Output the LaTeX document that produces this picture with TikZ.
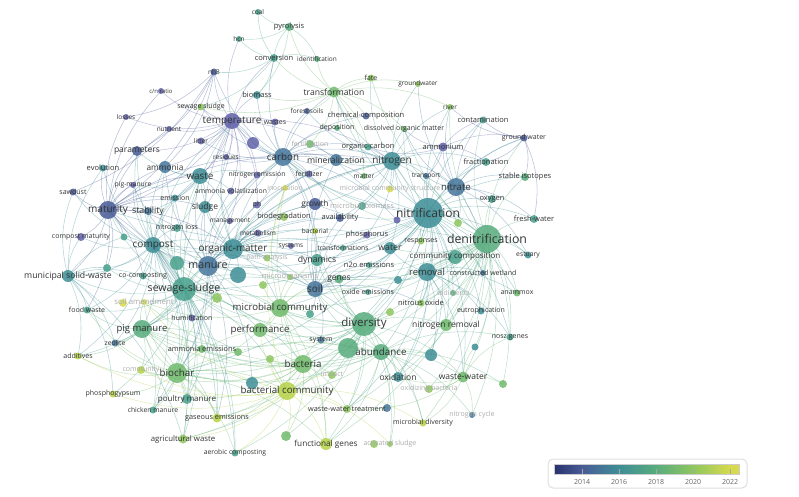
\documentclass[tikz,border=0pt]{standalone}
\usepackage{fontspec}
\setmainfont{Open Sans}
\usetikzlibrary{backgrounds}

\definecolor{cA}{RGB}{40,50,110}
\definecolor{cP}{RGB}{96,98,168}
\definecolor{cB}{RGB}{72,92,150}
\definecolor{cC}{RGB}{70,118,155}
\definecolor{cD}{RGB}{62,142,150}
\definecolor{cE}{RGB}{72,160,140}
\definecolor{cF}{RGB}{88,172,125}
\definecolor{cG}{RGB}{112,186,108}
\definecolor{cH}{RGB}{142,198,95}
\definecolor{cI}{RGB}{182,210,72}
\definecolor{cJ}{RGB}{214,218,76}

\tikzset{
  kw/.style={circle,inner sep=0pt,draw=none,fill opacity=0.85},
  lbl/.style={inner sep=0pt,text=black!80},
  faded/.style={inner sep=0pt,text=black!33},
  link/.style={line width=0.55pt,draw opacity=0.38},
}

% id/x/y/radius/colour/font size/label
\def\kwlist{coal/258/12/3/cE/6.5/coal, pyro/289/27/4/cF/7.5/pyrolysis,
  hcn/239/39/3/cE/6.5/hcn, conv/274/58/4/cE/7.5/conversion,
  ident/317/59/3/cF/6.5/identification, nhthree/214/72/3.5/cB/6.5/nh3,
  biomass/257/95/4/cD/7.5/biomass, transf/334/92/5.5/cG/8.6/transformation,
  fate/371/78/3.5/cH/7/fate, gwater/418/84/3/cH/6.5/groundwater,
  ssl/201/107/3.5/cH/7/sewage sludge, cnratio/161/91/3/cP/6/c\slash n ratio,
  losses/126/117/3/cP/6.5/losses, nutrient/169/129/3/cP/6.5/nutrient,
  litter/201/141/3.5/cP/6.5/litter, temp/232/121/8/cP/10/temperature,
  wastes/275/122/3.5/cP/7/wastes, forest/307/111/3/cB/6.5/forest soils,
  chemcomp/366/116/3.5/cB/7.5/chemical-composition, depos/337/128/3/cF/7/deposition,
  dom/404/129/3/cG/7/dissolved organic matter, river/450/107/3/cH/6.5/river,
  contam/483/120/3.5/cE/7.5/contamination, grwater/524/138/3.5/cB/7/ground water,
  ammonium/443/147/4.5/cP/7.5/ammonium, param/137/151/5/cB/8.5/parameters,
  orgc/368/147/3.5/cE/7.5/organic-carbon, carbon/283/157/9/cC/9.8/carbon,
  resid/226/157/3/cP/6.5/residues, miner/336/160/6/cC/8.7/mineralization,
  nitrogen/392/161/9/cD/10/nitrogen, fract/486/162/4/cE/7.5/fractionation,
  evol/103/168/3.5/cD/7.5/evolution, ammonia/165/167/6/cC/8.3/ammonia,
  waste/200/176/8/cD/9.9/waste, nemis/257/175/3.5/cP/6.8/nitrogen emission,
  fertil/309/174/3.5/cP/7/fertilizer, matter/364/176/3/cG/6.5/matter,
  transp/426/176/3/cC/6.5/transport, nitrate/456/187/9/cC/9.6/nitrate,
  stabiso/525/177/4/cF/7.5/stable isotopes, pigm/133/185/3/cP/6.8/pig-manure,
  amvol/231/191/3.5/cP/6.8/ammonia volatilization, emis/175/198/3.5/cD/7/emission,
  sawdust/73/192/3.5/cB/7/sawdust, oxygen/492/199/4/cE/7.5/oxygen,
  matur/108/210/9/cB/10/maturity, stab/148/211/4/cC/8.8/stability,
  sludge/205/207/6/cD/8.5/sludge, ph/257/205/3.5/cP/7/ph,
  growth/315/204/6/cB/8.3/growth, nitrif/428/213/15/cD/12/nitrification,
  fresh/534/219/4/cE/7.5/fresh-water, manag/230/221/3/cP/6.5/management,
  biodeg/284/217/4/cH/7.5/biodegradation, avail/340/218/4/cB/7.5/availability,
  cmatur/81/237/4/cP/7/compost maturity, nloss/177/228/4/cE/7/nitrogen loss,
  metab/258/233/3.5/cP/6.5/metabolism, bactl/315/231/3/cI/6.5/bacterial,
  phos/367/235/3.5/cP/7.5/phosphorus, resp/421/241/3.5/cH/7/responses,
  denit/487/239/14/cF/12.3/denitrification, estuary/528/255/3.5/cD/6.8/estuary,
  compost/153/245/8/cD/10/compost, om/233/249/10/cD/9.9/organic-matter,
  systems/291/246/3/cP/6.5/systems, transfs/343/248/3/cE/6.8/transformations,
  water/390/248/6/cD/8.7/water, comcomp/455/257/7/cE/8/community composition,
  dyn/317/260/6/cE/8.7/dynamics, ntwoo/369/265/3/cE/7.5/n2o emissions,
  cwet/483/273/3/cC/7/constructed wetland, removal/427/272/9/cD/9.5/removal,
  manure/208/266/10/cC/10.7/manure, genes/339/279/4.5/cF/8.5/genes,
  msw/68/276/6/cD/8.7/municipal solid-waste, cocomp/143/276/3.5/cE/7/co-composting,
  sws/184/289/12/cE/10.6/sewage-sludge, soil/315/289/8/cC/10/soil,
  oxem/368/292/3/cE/7/oxide emissions, anammox/517/293/3.5/cG/7/anammox,
  nox/421/303/3.5/cH/7.5/nitrous oxide, food/87/310/3.5/cE/7/food waste,
  mcom/280/308/9/cG/9.6/microbial community, eutro/481/311/3.5/cD/7/eutrophication,
  div/364/324/12/cF/11.5/diversity, humif/192/318/3.5/cP/7/humification,
  perf/260/330/7/cG/9.7/performance, nrem/446/325/6/cG/8.5/nitrogen removal,
  pigmanure/142/329/9/cF/9.5/pig manure, zeolite/115/343/3.5/cC/6.8/zeolite,
  amem/202/349/4/cG/7.3/ammonia emissions, system/321/340/3.5/cC/7/system,
  abund/381/352/8/cF/9.8/abundance, nosz/510/337/3.5/cE/7/nosz genes,
  addit/78/356/3.5/cI/7/additives, biochar/177/373/10/cG/9.8/biochar,
  bact/303/364/9/cG/9.8/bacteria, oxid/398/377/5/cD/8.5/oxidation,
  ww/463/377/5.5/cG/8.5/waste-water, bcom/287/391/9/cI/9.7/bacterial community,
  phosg/113/394/3.5/cI/7/phosphogypsum, poultry/187/399/5/cE/8/poultry manure,
  chicken/153/410/3.5/cE/6.8/chicken manure, gasem/217/418/4.5/cI/7.3/gaseous emissions,
  wwt/347/409/4/cH/7.3/waste-water treatment, mdiv/423/423/3.5/cI/7/microbial diversity,
  agri/183/439/4.5/cH/7.8/agricultural waste, fgenes/326/444/6/cI/8.2/functional genes,
  aerobic/235/453/3.5/cE/6.8/aerobic composting}

% labels that are drawn faded
\def\fadedlist{fertion/310/144/4/cG/7/fertilization, inoc/285/188/3/cJ/6.8/inoculation,
  smcs/390/189/3.5/cJ/7/microbial community structure,
  mbiom/362/206/4/cE/7.5/microbial biomass, path/267/258/3.5/cH/6.8/path analysis,
  morg/290/277/3/cH/7.5/microorganisms, sedim/453/293/3/cF/6.8/sediments,
  samend/144/302/3/cJ/7.8/soil amendment, commu/141/370/4/cI/7/community,
  impact/332/375/4/cH/7/impact, oxbact/429/389/4/cH/7/oxidizing bacteria,
  ncycle/472/415/3/cC/7/nitrogen cycle, asl/390/444/3/cH/7/activated sludge}

% items whose label is hidden
\def\hiddenlist{volat/253/143/6/cP, u1/348/348/10/cF, u2/431/355/6/cD,
  u3/238/275/8/cD, u4/177/263/7/cE, u5/252/383/6/cD, u6/503/384/4/cG,
  u7/458/223/4/cH, u8/217/298/5/cH, u9/387/408/4/cC, u10/398/280/4/cD,
  u11/390/312/4/cH, u12/397/220/3.5/cP, u13/124/237/3.5/cE, u14/107/268/4/cE,
  u15/286/436/5/cG, u16/475/347/3.5/cD, u17/310/314/4/cE, u18/270/359/4/cH,
  u19/238/352/4/cG, u20/123/303/4/cJ, u21/263/285/4/cH, u22/374/444/4/cH}

\begin{document}
\begin{tikzpicture}[x=1pt,y=-1pt]
\useasboundingbox (0,0) rectangle (799,497);

% circles
\foreach \id/\x/\y/\rad/\col/\fs/\txt in \kwlist
  \node[kw,fill=\col,minimum size={2*\rad pt}] (\id) at (\x,\y) {};
\foreach \id/\x/\y/\rad/\col/\fs/\txt in \fadedlist
  \node[kw,fill=\col,minimum size={2*\rad pt}] (\id) at (\x,\y) {};
\foreach \id/\x/\y/\rad/\col in \hiddenlist
  \node[kw,fill=\col,minimum size={2*\rad pt}] (\id) at (\x,\y) {};

% links
\begin{scope}[on background layer]
\foreach \hub/\col/\tgts in {
  nitrif/cD/{denit,nitrate,nitrogen,ammonium,oxygen,fresh,estuary,removal,water,comcomp,div,abund,soil,fract,stabiso,contam,grwater,ntwoo,nox,anammox,cwet,carbon,miner,transp,manure,compost,sws,biochar,bact,ww,nosz,eutro,sedim,nrem,oxid,resp,growth,dyn,u2,u1,river,dom,transf,matur,temp,om,mcom},
  denit/cF/{nitrate,estuary,fresh,removal,comcomp,anammox,cwet,nox,nrem,div,abund,nosz,ww,oxid,eutro,sedim,bact,mcom,soil,genes,fgenes,wwt,mdiv,oxbact,u6,u16,ncycle,water,oxygen,stabiso,grwater,contam,river,fate,dom,carbon,nitrogen,biochar,sws,compost,manure},
  div/cF/{abund,bact,bcom,mcom,soil,genes,fgenes,wwt,mdiv,asl,perf,system,oxid,ww,biochar,compost,sws,manure,pigmanure,nrem,comcomp,impact,u1,u11,u15,bactl,dyn,gasem,agri,aerobic},
  abund/cF/{bact,bcom,fgenes,genes,nosz,oxid,ww,wwt,mdiv,asl,ncycle,oxbact,soil,mcom,u2,u6,u9,biochar,pigmanure,sws,compost,amem},
  sws/cE/{compost,om,manure,sludge,waste,matur,temp,carbon,nitrogen,msw,cocomp,humif,pigmanure,biochar,food,zeolite,samend,mcom,perf,bact,bcom,amem,gasem,poultry,chicken,agri,aerobic,phosg,addit,soil,u3,u4,u8,u14,stab,ammonia,param,emis,nloss},
  manure/cC/{compost,om,waste,sludge,matur,temp,carbon,nitrogen,ammonia,amvol,emis,pigmanure,poultry,chicken,biochar,soil,dyn,metab,growth,avail,fertil,nemis,u3,u5,gasem,pigm},
  compost/cD/{om,matur,stab,cmatur,msw,cocomp,sawdust,evol,param,temp,ammonia,pigm,waste,nloss,emis,food,zeolite,addit,pigmanure,biochar,humif,amem,poultry,chicken,gasem,agri,aerobic,u13,u14,u4,div},
  om/cD/{carbon,nitrogen,miner,dyn,soil,growth,biodeg,metab,systems,transfs,path,morg,sludge,waste,temp,resid,ph,manag,humif,mcom,u3,bactl,avail,fertil,phos},
  carbon/cC/{temp,wastes,forest,chemcomp,depos,orgc,miner,nitrogen,resid,litter,volat,fertion,nemis,fertil,growth,ph,avail,biomass,transf,conv,nhthree,ssl,soil,dyn,matter,u12},
  nitrogen/cD/{miner,orgc,matter,transp,ammonium,nitrate,dom,depos,transf,fate,gwater,river,fract,phos,water,avail,smcs,mbiom,growth,resp,u7,fertion,forest},
  temp/cP/{litter,wastes,resid,volat,nutrient,losses,cnratio,param,ammonia,waste,matur,nhthree,ssl,biomass,nemis,amvol,ph,manag,emis,sludge,hcn,conv,nitrogen,miner},
  matur/cB/{param,evol,sawdust,stab,cmatur,pigm,ammonia,emis,msw,losses,nutrient,cnratio,waste,sludge,nloss,humif,cocomp,food,u13,u14,carbon,nitrogen,om},
  nhthree/cB/{matur,sawdust,param,ammonia,losses},
  bact/cG/{bcom,biochar,mcom,perf,system,impact,wwt,fgenes,gasem,poultry,amem,commu,u5,u18,u15,agri,samend,inoc,pigmanure},
  biochar/cG/{pigmanure,commu,addit,phosg,poultry,chicken,gasem,agri,amem,zeolite,food,samend,bcom,fgenes,perf,u5,u8,aerobic,abund},
  bcom/cI/{fgenes,wwt,mdiv,asl,perf,impact,gasem,agri,aerobic,inoc,samend,u15,u18,phosg,addit,commu},
  removal/cD/{nrem,cwet,ww,wwt,anammox,eutro,nox,water,comcomp,sedim,oxid,u2,u10,nosz},
  mcom/cG/{soil,genes,perf,bcom,fgenes,dyn,morg,u17,u21,samend,biochar,inoc},
  soil/cC/{genes,dyn,ntwoo,oxem,water,phos,avail,growth,mbiom,miner,nox,u10,u17,system},
  pigmanure/cF/{amem,zeolite,addit,commu,poultry,chicken,gasem,humif,samend,food,u8,u19},
  msw/cD/{food,cocomp,cmatur,sawdust,evol,addit,zeolite,u14,u13,agri,phosg},
  transf/cG/{fate,conv,ident,pyro,biomass,ssl,forest,chemcomp,depos,dom,matter,gwater,river,orgc,fertion},
  conv/cE/{coal,pyro,hcn,ident,nhthree,biomass,ssl},
  pyro/cF/{coal,ident,hcn,biomass},
  nitrate/cC/{ammonium,grwater,contam,fract,stabiso,oxygen,fresh,transp,river,gwater,dom,estuary,u7,cwet},
  ammonium/cP/{grwater,contam,fract,transp,dom,orgc},
  grwater/cB/{contam,stabiso,fract,fresh,river},
  waste/cD/{sludge,ammonia,emis,amvol,pigm,nemis,param,manag,nloss,stab},
  ww/cG/{u6,oxbact,nosz,wwt,oxid,ncycle,mdiv,u16}}
  \foreach \tg in \tgts
    \draw[link,draw=\col] (\hub.center) to[bend left=18] (\tg.center);
\end{scope}

% labels
\foreach \id/\x/\y/\rad/\col/\fs/\txt in \kwlist
  \node[lbl,font=\fontsize{\fs}{\fs}\selectfont] (l\id) at (\id.center) {\txt};
\foreach \id/\x/\y/\rad/\col/\fs/\txt in \fadedlist
  \node[faded,font=\fontsize{\fs}{\fs}\selectfont] (l\id) at (\id.center) {\txt};

% legend
\draw[gray!25,line width=1pt,rounded corners=5pt,fill=white] (548,459) rectangle (747,488);
\shade[left color=cA,right color=cB] (554,464) rectangle (582,474);
\shade[left color=cB,right color=cD] (582,464) rectangle (619,474);
\shade[left color=cD,right color=cF] (619,464) rectangle (656,474);
\shade[left color=cF,right color=cH] (656,464) rectangle (693,474);
\shade[left color=cH,right color=cJ] (693,464) rectangle (730,474);
\fill[cJ] (730,464) rectangle (739,474);
\draw[gray!40] (554,464) rectangle (739,474);
\foreach \yr/\x in {2014/582,2016/619,2018/656,2020/693,2022/730} {
  \draw[gray!70] (\x,474) -- (\x,469);
  \node[font=\fontsize{7}{7}\selectfont,text=black!60,inner sep=0pt] (t\yr) at (\x,482) {\yr};
}
\end{tikzpicture}
\end{document}
